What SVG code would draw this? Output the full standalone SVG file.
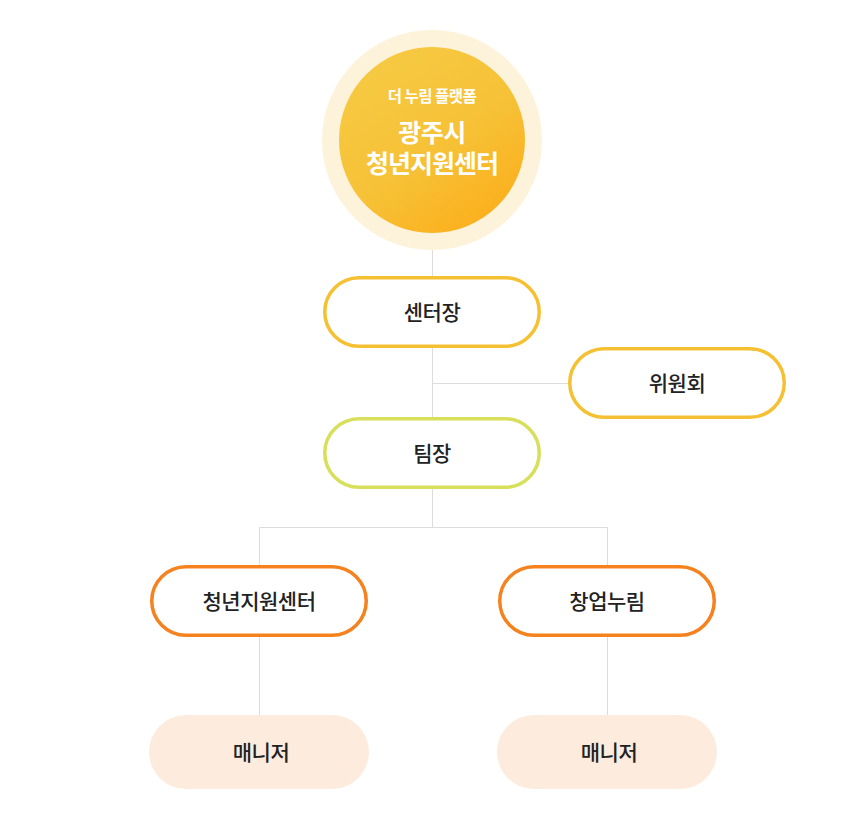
<svg xmlns="http://www.w3.org/2000/svg" width="860" height="835" viewBox="0 0 860 835">
<defs>
<linearGradient id="g" x1="0.2" y1="0.1" x2="0.8" y2="0.95">
<stop offset="0" stop-color="#f6c942"/>
<stop offset="0.55" stop-color="#f6c136"/>
<stop offset="1" stop-color="#fcaf1c"/>
</linearGradient>
</defs>
<style>
.t{font-family:"Noto Sans CJK KR","Noto Sans",sans-serif;text-anchor:middle;}
.lbl{font-size:21px;fill:#222;font-weight:500;letter-spacing:-0.5px;}
.pill{fill:#fff;stroke-width:3.5;}
.y{stroke:#f5c132;}
.g{stroke:#d7df5b;}
.o{stroke:#f6821f;}
.m{fill:#fdecdd;}
.c{stroke:#dcdcdc;stroke-width:1;fill:none;}
</style>
<rect width="860" height="835" fill="#fff"/>
<g id="connectors">
<path class="c" d="M432.5 234V278M432.5 346V419M432.5 383.5H570M432.5 487V527.5M259.5 527.5H607.5M259.5 527.5V567M607.5 527.5V567M259.5 635V717M607.5 635V717"/>
</g>
<g id="root">
<circle cx="432" cy="140" r="110" fill="#fdf3da"/>
<circle cx="432" cy="140" r="93" fill="url(#g)"/>
<text class="t" x="432" y="102" font-size="15.5" font-weight="700" fill="#fff" letter-spacing="-0.5">더 누림 플랫폼</text>
<text class="t" x="432" y="142" font-size="25" font-weight="700" fill="#fff" letter-spacing="-0.5">광주시</text>
<text class="t" x="432" y="173" font-size="25" font-weight="700" fill="#fff" letter-spacing="-1">청년지원센터</text>
</g>
<g id="n-director">
<rect class="pill y" x="324.75" y="277.75" width="214.5" height="68.5" rx="34.25"/>
<text class="t lbl" x="432" y="319.5">센터장</text>
</g>
<g id="n-committee">
<rect class="pill y" x="569.75" y="348.75" width="214.5" height="68.5" rx="34.25"/>
<text class="t lbl" x="677" y="390.5">위원회</text>
</g>
<g id="n-teamlead">
<rect class="pill g" x="324.75" y="418.75" width="214.5" height="68.5" rx="34.25"/>
<text class="t lbl" x="432" y="460.5">팀장</text>
</g>
<g id="n-center">
<rect class="pill o" x="151.75" y="566.75" width="214.5" height="68.5" rx="34.25"/>
<text class="t lbl" x="259" y="608.5">청년지원센터</text>
</g>
<g id="n-startup">
<rect class="pill o" x="499.75" y="566.75" width="214.5" height="68.5" rx="34.25"/>
<text class="t lbl" x="607" y="608.5">창업누림</text>
</g>
<g id="n-manager1">
<rect class="m" x="149" y="715" width="220" height="74" rx="37"/>
<text class="t lbl" x="261" y="759.5">매니저</text>
</g>
<g id="n-manager2">
<rect class="m" x="497" y="715" width="220" height="74" rx="37"/>
<text class="t lbl" x="609" y="759.5">매니저</text>
</g>
</svg>
